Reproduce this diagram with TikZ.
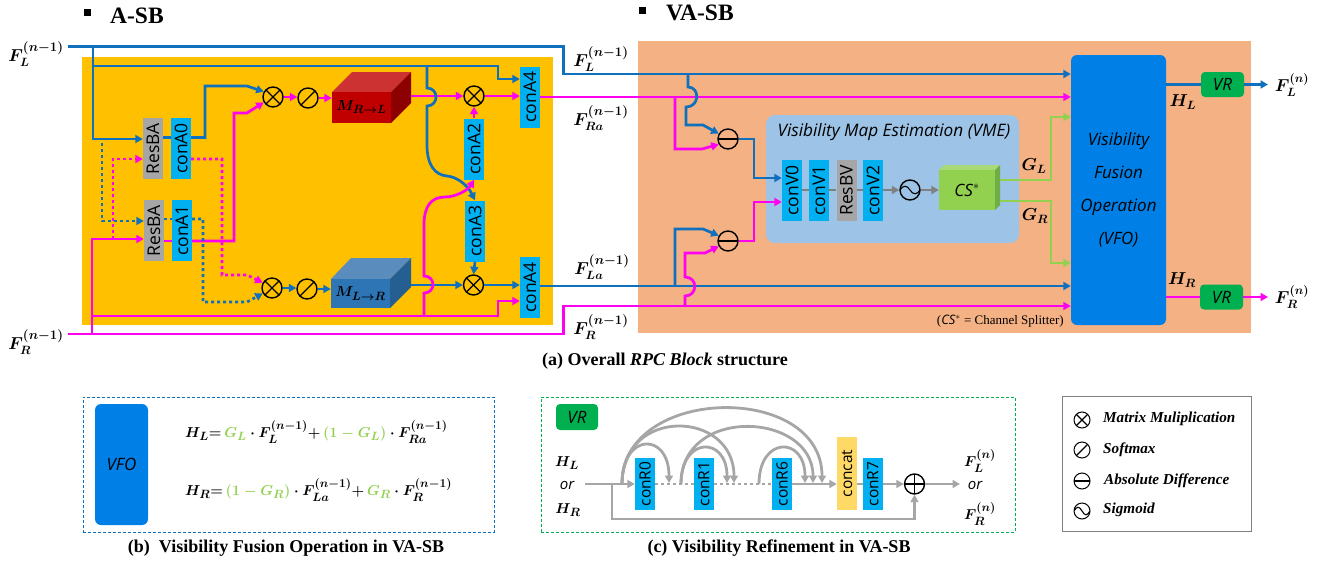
\documentclass[tikz,border=0pt]{standalone}
\usepackage{amsmath}
\usepackage{graphicx}
\usepackage[no-math]{fontspec}
\setmainfont{Liberation Serif}
\setsansfont{Open Sans}
\usepackage{tikz}
\usetikzlibrary{arrows.meta,calc}
\DeclareMathSizes{14.4}{14.4}{12}{10}
\definecolor{wireblue}{HTML}{0F70BE}
\definecolor{wirepink}{HTML}{FF00F0}
\definecolor{wiregray}{HTML}{A6A6A6}
\definecolor{vmegray}{HTML}{808080}
\definecolor{wiregreen}{HTML}{92D050}
\definecolor{conblue}{HTML}{00B0F0}
\definecolor{vfoblue}{HTML}{0080E6}
\definecolor{vrgreen}{HTML}{00B050}
\definecolor{asbcol}{HTML}{FFC000}
\definecolor{vasbcol}{HTML}{F4B183}
\definecolor{vmecol}{HTML}{9DC3E6}
\definecolor{concatcol}{HTML}{FFD966}
\newcommand{\vtxt}[1]{\rotatebox{90}{#1}}
\newcommand{\supm}{\scalebox{1.1}{$\scriptstyle(n-1)$}}
\tikzset{font=\sffamily, >={Triangle[length=7.5pt,width=8pt]}}
\tikzset{every node/.append style={inner sep=0pt, text=black}}
\tikzset{
  sizewh/.style 2 args={minimum width=#1, minimum height=#2},
  bluewire/.style={draw=wireblue, line width=2.7pt},
  pinkwire/.style={draw=wirepink, line width=2.7pt},
  greenwire/.style={draw=wiregreen, line width=2.7pt},
  graywire/.style={draw=wiregray, line width=2.8pt},
  vmewire/.style={draw=vmegray, line width=2.5pt},
  dots/.style={dash pattern=on 3pt off 3pt},
  conbox/.style={fill=conblue, sizewh={20}{61}, font=\sffamily\fontsize{17.5}{17.5}\selectfont},
  resbox/.style={fill=wiregray, sizewh={20}{61}, font=\sffamily\fontsize{17.5}{17.5}\selectfont},
  vrbox/.style={fill=vrgreen, rounded corners=4pt, font=\sffamily\itshape\fontsize{17}{17}\selectfont},
  vfobox/.style={fill=vfoblue, rounded corners=6pt, font=\sffamily\itshape\fontsize{17}{17}\selectfont},
  lbl/.style={font=\LARGE\boldmath},
  sublbl/.style={font=\Large\boldmath},
  caption/.style={font=\rmfamily\bfseries\fontsize{18}{18}\selectfont},
  titletxt/.style={anchor=west, font=\rmfamily\bfseries\fontsize{23.5}{23.5}\selectfont},
  legtxt/.style={anchor=west, font=\rmfamily\bfseries\itshape\fontsize{15.2}{15.2}\selectfont},
  ortxt/.style={font=\sffamily\itshape\fontsize{15}{15}\selectfont},
  opcirc/.style={circle, draw=black, line width=1.4pt, minimum size=20, inner sep=0pt},
  mulop/.style={opcirc, path picture={
    \draw[line width=1.2pt] (path picture bounding box.north west) -- (path picture bounding box.south east);
    \draw[line width=1.2pt] (path picture bounding box.north east) -- (path picture bounding box.south west);}},
  addop/.style={opcirc, path picture={
    \draw[line width=1.2pt] (path picture bounding box.north) -- (path picture bounding box.south);
    \draw[line width=1.2pt] (path picture bounding box.west) -- (path picture bounding box.east);}},
  softop/.style={opcirc, path picture={
    \draw[line width=1.2pt] (path picture bounding box.north east) -- (path picture bounding box.south west);}},
  diffop/.style={opcirc, path picture={
    \draw[line width=1.2pt] (path picture bounding box.west) -- (path picture bounding box.east);}},
  sigop/.style={opcirc, path picture={
    \draw[line width=1.1pt] (path picture bounding box.west) .. controls +(3,-5) and +(-3,-5) .. (path picture bounding box.center)
      .. controls +(3,5) and +(-3,5) .. (path picture bounding box.east);}}
}
\begin{document}
\begin{tikzpicture}[x=1pt,y=-1pt]
  \useasboundingbox (0,0) rectangle (1325,565);
% panels
  \node[fill=asbcol, sizewh={471}{268}] (asb) at (317.5,191) {};
  \node[fill=vasbcol, sizewh={613}{292}] (vasb) at (944.5,187) {};
  \node[fill=vmecol, rounded corners=9pt, sizewh={253}{128}] (vme) at (892.5,179) {};
  \node[font=\sffamily\itshape\fontsize{17.2}{17.2}\selectfont] (vmetxt) at (894,132) {Visibility Map Estimation (VME)};
  \node[titletxt] (asbtxt) at (110,15.5) {A-SB};
  \node[fill=black, sizewh={7}{7}] (asbsq) at (87,12.5) {};
  \node[titletxt] (vasbtxt) at (666,12.5) {VA-SB};
  \node[fill=black, sizewh={7}{7}] (vasbsq) at (642,10) {};
% blocks of A-SB
  \node[resbox] (resAu) at (153,148.5) {\vtxt{ResBA}};
  \node[conbox] (conA0) at (181,148.5) {\vtxt{conA0}};
  \node[resbox] (resAd) at (154,230.5) {\vtxt{ResBA}};
  \node[conbox] (conA1) at (182,230.5) {\vtxt{conA1}};
  \node[conbox] (conA2) at (474,149) {\vtxt{conA2}};
  \node[conbox] (conA3) at (475,231) {\vtxt{conA3}};
  \node[conbox] (conA4u) at (530,97) {\vtxt{conA4}};
  \node[conbox] (conA4d) at (530,287.5) {\vtxt{conA4}};
  \node[mulop] (mulu) at (273,97) {};
  \node[softop] (softu) at (308,98) {};
  \node[mulop] (muld) at (272,288) {};
  \node[softop] (softd) at (307,289) {};
  \node[mulop] (mulr) at (474,96) {};
  \node[mulop] (mulb) at (473.5,285) {};
% cubes
  \fill[fill={rgb,255:red,205;green,50;blue,50}] (332,92) -- (352,72) -- (411,72) -- (391,92) -- cycle;
  \fill[fill={rgb,255:red,140;green,0;blue,0}] (391,92) -- (411,72) -- (411,103) -- (391,123) -- cycle;
  \node[fill={rgb,255:red,192;green,0;blue,0}, sizewh={59}{31}, font=\Large\boldmath] (cubeR) at (361.5,107.5) {$M_{R\to L}$};
  \fill[fill={rgb,255:red,90;green,140;blue,190}] (331,279) -- (351,258) -- (411,258) -- (390,279) -- cycle;
  \fill[fill={rgb,255:red,37;green,94;blue,145}] (390,279) -- (411,258) -- (411,287) -- (390,308) -- cycle;
  \node[fill={rgb,255:red,46;green,117;blue,182}, sizewh={59}{29}, font=\Large\boldmath] (cubeL) at (360.5,293.5) {$M_{L\to R}$};
% blocks of VA-SB
  \node[diffop] (diffu) at (728,139) {};
  \node[diffop] (diffd) at (728,241) {};
  \node[conbox] (conV0) at (792,190.5) {\vtxt{conV0}};
  \node[conbox] (conV1) at (819,190.5) {\vtxt{conV1}};
  \node[resbox] (resV) at (846.5,190.5) {\vtxt{ResBV}};
  \node[conbox] (conV2) at (873,190.5) {\vtxt{conV2}};
  \node[sigop] (sig) at (910,190) {};
  \fill[fill={rgb,255:red,169;green,218;blue,120}] (939,170) -- (944,165) -- (1000,165) -- (995,170) -- cycle;
  \fill[fill={rgb,255:red,112;green,173;blue,71}] (995,170) -- (1000,165) -- (1000,205) -- (995,210) -- cycle;
  \node[fill=wiregreen, sizewh={56}{40}, font=\sffamily\itshape\fontsize{17}{17}\selectfont] (cs) at (967,190) {CS$^{*}$};
  \node[vfobox, sizewh={95}{270}, align=center] (vfo) at (1118.5,190) {Visibility\\[16pt]Fusion\\[16pt]Operation\\[16pt](VFO)};
  \node[vrbox, sizewh={43}{25}] (vru) at (1222.5,84.5) {VR};
  \node[vrbox, sizewh={43}{25}] (vrd) at (1221.5,297) {VR};
  \node[font=\rmfamily\fontsize{13}{13}\selectfont, anchor=east] (csnote) at (1064,321) {(\textsf{\textit{CS}}$^{*}$ = Channel Splitter)};
% wire ends and branch points
  \coordinate (startL) at (68,46.5);
  \coordinate (startR) at (68,334);
  \coordinate (jL) at (93,46.5);
  \coordinate (jLi) at (93,66);
  \coordinate (jR) at (92,334);
  \coordinate (jRi) at (92,316);
  \coordinate (jLv) at (427,66);
  \coordinate (jRv) at (424,316);
  \coordinate (jDot) at (102,143);
  \coordinate (jPink) at (113,239);
  \coordinate (jVu) at (688,74);
  \coordinate (jPu) at (675,97);
  \coordinate (jVd) at (675,286);
  \coordinate (jPd) at (685,306);
  \coordinate (endL) at (1268,85);
  \coordinate (endR) at (1268,297);
% A-SB wires
  \draw[bluewire,->] (startL) -- (563.5,46.5) -- (563.5,74) -- (vfo.west |- 0,74);
  \draw[pinkwire,->] (startR) -- (563.5,334) -- (563.5,306) -- (vfo.west |- 0,306);
  \draw[bluewire,->] (jL) |- (resAu.west |- 0,139);
  \draw[bluewire,->] (jLi) -- (498,66) -- (498,79) -- (conA4u.west |- 0,79);
  \draw[pinkwire,->] (jR) |- (resAd.west |- 0,239);
  \draw[pinkwire,->] (jRi) -- (498,316) -- (498,301) -- (conA4d.west |- 0,301);
  \draw[bluewire] (resAu.east |- 0,137.5) -- (conA0.west |- 0,137.5);
  \draw[pinkwire] (resAd.east |- 0,241) -- (conA1.west |- 0,241);
  \draw[bluewire,->] (conA0.east |- 0,137.5) -- (205,137.5) -- (205,86) -- (247,86) -- (mulu.150);
  \draw[pinkwire,->] (conA1.east |- 0,241) -- (234,241) -- (234,113) -- (247,113) -- (mulu.210);
  \draw[pinkwire,dots,->] (jPink) -- (113,159) -- (resAu.west |- 0,159);
  \draw[pinkwire,dots,->] (conA0.east |- 0,159) -- (222,159) -- (222,275) -- (247,275) -- (muld.150);
  \draw[bluewire,dots,->] (jDot) -- (102,221) -- (resAd.west |- 0,221);
  \draw[bluewire,dots] (resAd.east |- 0,219) -- (conA1.west |- 0,219);
  \draw[bluewire,dots,->] (conA1.east |- 0,219) -- (203,219) -- (203,302) -- (247,302) -- (muld.210);
  \draw[pinkwire,->] (mulu.east) -- (softu.west |- mulu);
  \draw[bluewire,->] (muld.east) -- (softd.west |- muld);
  \draw[pinkwire,->] (softu.east) -- (cubeR.west |- softu);
  \draw[bluewire,->] (softd.east) -- (cubeL.west |- softd);
  \draw[pinkwire,->] (411,96) -- (mulr.west);
  \draw[bluewire,->] (411,285) -- (mulb.west);
  \draw[bluewire,->] (jLv) -- (427,88) .. controls (439,88) and (439,106) .. (427,106) -- (427,145)
    .. controls (427,165) and (435,175) .. (447,176) .. controls (458,177) and (468,186) .. (conA3.north);
  \draw[pinkwire,->] (jRv) -- (424,293) .. controls (436,293) and (436,276) .. (424,276) -- (424,225)
    .. controls (424,205) and (432,197) .. (445,197) .. controls (456,197) and (468,190) .. (conA2.south);
  \draw[pinkwire,->] (conA2.north) -- (mulr.south);
  \draw[bluewire,->] (conA3.south) -- (mulb.north);
  \draw[pinkwire,->] (mulr.east) -- (conA4u.west |- mulr);
  \draw[bluewire,->] (mulb.east) -- (conA4d.west |- mulb);
  \draw[pinkwire,->] (conA4u.east |- 0,97) -- (vfo.west |- 0,97);
  \draw[bluewire,->] (conA4d.east |- 0,286) -- (vfo.west |- 0,286);
% VA-SB wires
  \draw[bluewire,->] (jVu) -- (688,87) .. controls (700,87) and (700,107) .. (686,107) -- (686,125) -- (703,125) -- (diffu.150);
  \draw[pinkwire,->] (jPu) -- (675,149) -- (702,149) -- (diffu.210);
  \draw[bluewire,->] (jVd) -- (675,229) -- (703,229) -- (diffd.150);
  \draw[pinkwire,->] (jPd) -- (685,296) .. controls (698,296) and (698,277) .. (685,277) -- (685,253) -- (705,253) -- (diffd.210);
  \draw[bluewire,->] (diffu.east) -- (754,139) -- (754,178) -- (conV0.west |- 0,178);
  \draw[pinkwire,->] (diffd.east) -- (754,241) -- (754,202) -- (conV0.west |- 0,202);
  \draw[vmewire] (conV0.east |- sig) -- (conV1.west |- sig);
  \draw[vmewire] (conV1.east |- sig) -- (resV.west |- sig);
  \draw[vmewire] (resV.east |- sig) -- (conV2.west |- sig);
  \draw[vmewire,->] (conV2.east |- sig) -- (sig.west);
  \draw[vmewire,->] (sig.east) -- (cs.west);
  \draw[greenwire,->] (1000,180) -- (1051,180) -- (1051,117) -- (vfo.west |- 0,117);
  \draw[greenwire,->] (1000,201) -- (1051,201) -- (1051,263) -- (vfo.west |- 0,263);
  \draw[bluewire] (vfo.east |- vru) -- (vru.west);
  \draw[bluewire,->] (vru.east) -- (endL |- vru);
  \draw[pinkwire] (vfo.east |- vrd) -- (vrd.west);
  \draw[pinkwire,->] (vrd.east) -- (endR);
% labels
  \node[lbl] (lblFLin) at (36,54) {$F_{L}^{\supm}$};
  \node[lbl] (lblFRin) at (36,342) {$F_{R}^{\supm}$};
  \node[lbl] (lblFL) at (601,59) {$F_{L}^{\supm}$};
  \node[lbl] (lblFRa) at (601,118) {$F_{Ra}^{\supm}$};
  \node[lbl] (lblFLa) at (602,267) {$F_{La}^{\supm}$};
  \node[lbl] (lblFR) at (601,327) {$F_{R}^{\supm}$};
  \node[lbl] (lblGL) at (1034,166) {$G_{L}$};
  \node[lbl] (lblGR) at (1035,216) {$G_{R}$};
  \node[lbl] (lblHL) at (1183,102) {$H_{L}$};
  \node[lbl] (lblHR) at (1182,280) {$H_{R}$};
  \node[lbl] (lblFLout) at (1292,85) {$F_{L}^{(n)}$};
  \node[lbl] (lblFRout) at (1292,297) {$F_{R}^{(n)}$};
  \node[caption] (capa) at (665,361) {(a) Overall \textit{RPC Block} structure};
% panel (b)
  \node[draw=wireblue, line width=.9pt, dash pattern=on 3pt off 2pt, sizewh={411}{135}] (boxb) at (288.5,464.5) {};
  \node[vfobox, sizewh={53}{121}] (vfob) at (121.5,464.5) {VFO};
  \node[sublbl, anchor=west] (eqHL) at (185,432) {$H_{L}{=}\,\textcolor{wiregreen}{G_{L}}\cdot F_{L}^{(n-1)}{+}\,\textcolor{wiregreen}{(1-G_{L})}\cdot F_{Ra}^{(n-1)}$};
  \node[sublbl, anchor=west] (eqHR) at (185,490) {$H_{R}{=}\,\textcolor{wiregreen}{(1-G_{R})}\cdot F_{La}^{(n-1)}{+}\,\textcolor{wiregreen}{G_{R}}\cdot F_{R}^{(n-1)}$};
  \node[caption] (capb) at (286,548) {(b)\ \ Visibility Fusion Operation in VA-SB};
% panel (c)
  \node[draw=vrgreen, line width=.9pt, dash pattern=on 3pt off 2pt, sizewh={474}{135}] (boxc) at (778,464.5) {};
  \node[vrbox, sizewh={42}{26}] (vrc) at (577,417) {VR};
  \node[conbox, minimum height=52, font=\sffamily\fontsize{15.5}{15.5}\selectfont] (conR0) at (645,484) {\vtxt{conR0}};
  \node[conbox, minimum height=52, font=\sffamily\fontsize{15.5}{15.5}\selectfont] (conR1) at (704,484) {\vtxt{conR1}};
  \node[conbox, minimum height=52, font=\sffamily\fontsize{15.5}{15.5}\selectfont] (conR6) at (782,484) {\vtxt{conR6}};
  \node[fill=concatcol, sizewh={20}{73}, font=\sffamily\fontsize{15.5}{15.5}\selectfont] (concat) at (847,473.5) {\vtxt{concat}};
  \node[conbox, minimum height=52, font=\sffamily\fontsize{15.5}{15.5}\selectfont] (conR7) at (873,484) {\vtxt{conR7}};
  \node[addop] (addc) at (914.5,484) {};
  \coordinate (startc) at (585,484);
  \coordinate (endc) at (960,484);
  \coordinate (jc) at (612,484);
  \coordinate (a0) at (622,484);
  \coordinate (a1) at (681,484);
  \coordinate (a6) at (759,484);
  \coordinate (t0) at (669,483);
  \coordinate (t1) at (727,483);
  \coordinate (t2) at (734,483);
  \coordinate (t3) at (805,483);
  \coordinate (t4) at (813,483);
  \coordinate (t5) at (822,483);
  \draw[graywire,->] (startc) -- (conR0.west);
  \draw[graywire,dots] (conR0.east) -- (conR1.west);
  \draw[graywire,dots] (conR1.east) -- (conR6.west);
  \draw[graywire,->] (conR6.east) -- (concat.west |- conR6);
  \draw[graywire] (concat.east |- conR7) -- (conR7.west);
  \draw[graywire,->] (conR7.east) -- (addc.west);
  \draw[graywire,->] (addc.east) -- (endc);
  \draw[graywire,->] (jc) -- (612,519) -- (914.5,519) -- (addc.south);
  \draw[graywire,->] (a0) .. controls (622,432) and (669,432) .. (t0);
  \draw[graywire,->] (a0) .. controls (622,406) and (734,410) .. (t2);
  \draw[graywire,->] (a0) .. controls (622,385) and (822,382) .. (t5);
  \draw[graywire,->] (a1) .. controls (681,436) and (727,436) .. (t1);
  \draw[graywire,->] (a1) .. controls (681,405) and (813,412) .. (t4);
  \draw[graywire,->] (a6) .. controls (759,436) and (805,436) .. (t3);
  \node[sublbl] (lblHLc) at (567,463) {$H_{L}$};
  \node[ortxt] (orl) at (567,485) {or};
  \node[sublbl] (lblHRc) at (568,510) {$H_{R}$};
  \node[sublbl] (lblFLc) at (980,461) {$F_{L}^{(n)}$};
  \node[ortxt] (orr) at (975,485) {or};
  \node[sublbl] (lblFRc) at (980,514) {$F_{R}^{(n)}$};
  \node[caption] (capc) at (779,548) {(c) Visibility Refinement in VA-SB};
% legend
  \node[draw=gray, line width=.9pt, fill=white, sizewh={189}{135}] (legbox) at (1156.5,463.5) {};
  \node[mulop, minimum size=16, line width=1pt] (legM) at (1082,420) {};
  \node[softop, minimum size=16, line width=1pt] (legS) at (1082,450) {};
  \node[diffop, minimum size=16, line width=1pt] (legD) at (1082,481) {};
  \node[sigop, minimum size=16, line width=1pt] (legG) at (1082,511) {};
  \node[legtxt] (txtM) at (1103,419) {Matrix Muliplication};
  \node[legtxt] (txtS) at (1103,450) {Softmax};
  \node[legtxt] (txtD) at (1104,481) {Absolute Difference};
  \node[legtxt] (txtG) at (1103,510) {Sigmoid};
\end{tikzpicture}
\end{document}
